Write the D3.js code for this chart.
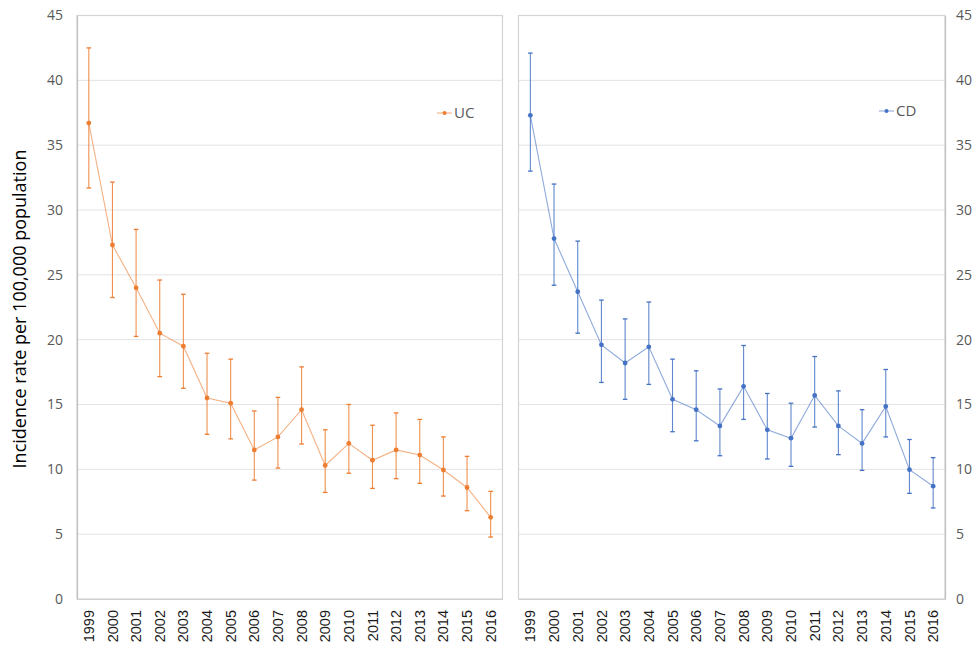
<!DOCTYPE html>
<html><head><meta charset="utf-8">
<script src="https://cdn.jsdelivr.net/npm/d3@7"></script>
<style>body{margin:0;background:#fff}svg{display:block}</style>
</head><body><svg id="c" width="973" height="648"></svg>
<script>
const years = ["1999","2000","2001","2002","2003","2004","2005","2006","2007","2008","2009","2010","2011","2012","2013","2014","2015","2016"];
const ucRate  = [36.7,27.3,24.0,20.5,19.5,15.5,15.1,11.5,12.5,14.6,10.3,12.0,10.7,11.5,11.1,9.95,8.6,6.3];
const ucUpper = [42.5,32.15,28.5,24.6,23.5,18.95,18.5,14.5,15.55,17.9,13.05,15.0,13.4,14.35,13.85,12.5,11.0,8.3];
const ucLower = [31.7,23.25,20.25,17.15,16.25,12.7,12.35,9.17,10.1,11.95,8.22,9.7,8.53,9.28,8.92,7.94,6.81,4.78];
const cdRate  = [37.3,27.8,23.7,19.6,18.2,19.45,15.4,14.6,13.35,16.4,13.05,12.4,15.7,13.35,12.0,14.85,9.97,8.7];
const cdUpper = [42.1,32.0,27.6,23.05,21.6,22.9,18.5,17.6,16.2,19.55,15.85,15.1,18.7,16.05,14.6,17.7,12.3,10.9];
const cdLower = [33.0,24.2,20.5,16.7,15.4,16.55,12.9,12.2,11.05,13.85,10.8,10.23,13.26,11.13,9.92,12.5,8.15,7.02];
const yTicks = [0,5,10,15,20,25,30,35,40,45];
const yTitle = "Incidence rate per 100,000 population";

const svg = d3.select("#c");
const yTop = 15.5, yBottom = 599;
const y = d3.scaleLinear().domain([0,45]).range([yBottom, yTop]);

const panels = [
  {name:"UC", color:"#ED7D31", rate:ucRate, up:ucUpper, lo:ucLower, x0:77, x1:502.5, axis:"left", legX:437, legY:113},
  {name:"CD", color:"#4472C4", rate:cdRate, up:cdUpper, lo:cdLower, x0:518.5, x1:945, axis:"right", legX:879, legY:111}
];

panels.forEach(p => {
  const x = d3.scaleBand().domain(years).range([p.x0, p.x1]);
  const cx = d => x(d) + x.bandwidth()/2;
  const g = svg.append("g");
  g.selectAll("line.grid").data(yTicks.filter(t => t>0 && t<45)).enter().append("line")
    .attr("x1", p.x0).attr("x2", p.x1).attr("y1", d=>y(d)).attr("y2", d=>y(d))
    .attr("stroke", "#e3e3e3").attr("stroke-width", 1);
  g.append("rect").attr("x", p.x0).attr("y", yTop).attr("width", p.x1-p.x0).attr("height", yBottom-yTop)
    .attr("fill","none").attr("stroke","#d4d4d4").attr("stroke-width",1.2);
  const ax = p.axis === "left" ? d3.axisLeft(y) : d3.axisRight(y);
  ax.tickValues(yTicks).tickSize(0).tickPadding(p.axis==="left"?14:11);
  const ag = g.append("g").attr("transform", `translate(${p.axis==="left"?p.x0:p.x1},0)`).call(ax);
  ag.select(".domain").attr("stroke","#bfbfbf").attr("stroke-width",1.2);
  ag.selectAll("text").attr("font-family","'Open Sans',sans-serif").attr("font-size",14).attr("fill","#595959");
  const xg = g.append("g").attr("transform", `translate(0,${yBottom})`).call(d3.axisBottom(x).tickSize(0));
  xg.select(".domain").attr("stroke","#cfcfcf").attr("stroke-width",1.2);
  xg.selectAll("text").attr("font-family","'Liberation Sans',Arial,sans-serif").attr("font-size",14.5).attr("fill","#1a1a1a")
    .attr("transform","rotate(-90)").attr("text-anchor","end").attr("x",-11).attr("y",0).attr("dy","0.35em");
  const idx = d3.range(years.length);
  g.append("path").datum(idx)
    .attr("d", d3.line().x(i=>cx(years[i])).y(i=>y(p.rate[i])))
    .attr("fill","none").attr("stroke",p.color).attr("stroke-opacity",0.6).attr("stroke-width",1.1);
  const eb = g.selectAll("g.eb").data(idx).enter().append("g");
  eb.append("line").attr("x1",i=>cx(years[i])).attr("x2",i=>cx(years[i]))
    .attr("y1",i=>y(p.up[i])).attr("y2",i=>y(p.lo[i]))
    .attr("stroke",p.color).attr("stroke-opacity",0.85).attr("stroke-width",1.1);
  ["up","lo"].forEach(k => {
    eb.append("line").attr("x1",i=>cx(years[i])-2.3).attr("x2",i=>cx(years[i])+2.3)
      .attr("y1",i=>y(p[k][i])).attr("y2",i=>y(p[k][i]))
      .attr("stroke",p.color).attr("stroke-width",1.3);
  });
  g.selectAll("circle.m").data(idx).enter().append("circle")
    .attr("cx",i=>cx(years[i])).attr("cy",i=>y(p.rate[i])).attr("r",2.4).attr("fill",p.color);
  const lg = g.append("g").attr("transform",`translate(${p.legX},${p.legY})`);
  lg.append("line").attr("x1",0).attr("x2",15).attr("y1",0).attr("y2",0).attr("stroke",p.color).attr("stroke-opacity",0.6).attr("stroke-width",1.1);
  lg.append("circle").attr("cx",7.5).attr("cy",0).attr("r",2).attr("fill",p.color);
  lg.append("text").attr("x",17).attr("y",0).attr("dy","0.35em").text(p.name)
    .attr("font-family","'Open Sans',sans-serif").attr("font-size",15).attr("fill","#595959");
});

svg.append("text").attr("transform","translate(20,309) rotate(-90)").attr("text-anchor","middle")
  .attr("dy","0.35em").attr("font-family","'Open Sans',sans-serif").attr("font-size",18).attr("fill","#000")
  .text(yTitle);
</script></body></html>
